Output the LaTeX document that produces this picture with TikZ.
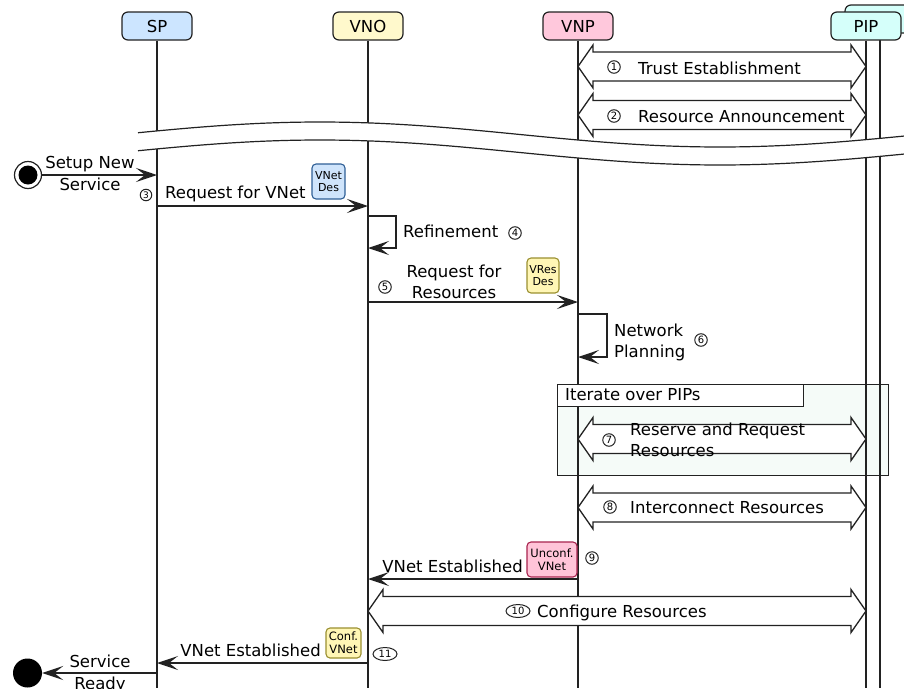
\documentclass[tikz,border=0pt]{standalone}
\usepackage{fontspec}
\setmainfont{DejaVu Sans}
\usetikzlibrary{arrows.meta,calc,shapes.geometric}
\definecolor{spfill}{HTML}{CCE5FF}
\definecolor{vnofill}{HTML}{FFF9CC}
\definecolor{vnpfill}{HTML}{FFC8DC}
\definecolor{pipfill}{HTML}{D5FFFA}
\definecolor{bluetagf}{HTML}{CFE4FB}
\definecolor{bluetagd}{HTML}{2F5F96}
\definecolor{yeltagf}{HTML}{FFF6B5}
\definecolor{yeltagd}{HTML}{9A9030}
\definecolor{pinktagf}{HTML}{FFC4D8}
\definecolor{pinktagd}{HTML}{A8234E}
\definecolor{framefill}{HTML}{F5FBF8}
\definecolor{ink}{HTML}{222222}
\tikzset{
  actor/.style={draw=ink, line width=1.2pt, rounded corners=6pt, minimum width=70pt, minimum height=28pt, inner sep=0pt, font=\fontsize{16.5}{20}\selectfont},
  life/.style={draw=ink, line width=1.3pt},
  msg/.style={draw=ink, line width=1.3pt, -{Stealth[length=21pt,width=14pt,inset=9pt]}},
  blk/.style={draw=ink, line width=1.3pt, fill=white, line join=miter},
  lbl/.style={font=\fontsize{16.5}{21}\selectfont, inner sep=0pt},
  num/.style={circle, draw=ink, line width=1pt, inner sep=0pt, minimum size=12.5pt, font=\fontsize{10}{10}\selectfont},
  numw/.style={ellipse, draw=ink, line width=1pt, inner sep=0pt, minimum width=24pt, minimum height=13pt, font=\fontsize{10}{10}\selectfont},
  tag/.style={rounded corners=4pt, line width=1.1pt, inner sep=0pt, align=center, font=\fontsize{11}{12.5}\selectfont},
}
\newcommand{\blkarrow}[2]{%
  \draw[blk] (#1) -- ++(15,-21.5) -- ++(0,7) -- ($(#2)+(-15,-14.5)$) -- ++(0,-7) -- (#2)
    -- ++(-15,21.5) -- ++(0,-7) -- ($(#1)+(15,14.5)$) -- ++(0,7) -- cycle;}
\begin{document}
\begin{tikzpicture}[x=1pt,y=-1pt]
\clip (0,0) rectangle (904,688);
\fill[white] (0,0) rectangle (904,688);
\coordinate (bot) at (0,688);

% actors
\node[actor, fill=spfill] (SP) at (157,26) {SP};
\node[actor, fill=vnofill] (VNO) at (368,26) {VNO};
\node[actor, fill=vnpfill] (VNP) at (578,26) {VNP};
\node[actor, fill=pipfill] (PIPb) at (880,19) {};

% iterate frame
\draw[ink, line width=1pt, fill=framefill] (557,384) rectangle (888,475);

% lifelines
\draw[life] (SP.south) -- (SP |- bot);
\draw[life] (VNO.south) -- (VNO |- bot);
\draw[life] (VNP.south) -- (VNP |- bot);
\draw[life] (PIPb.south) -- (PIPb |- bot);
\node[actor, fill=pipfill] (PIP) at (866,26) {PIP};
\draw[life] (PIP.south) -- (PIP |- bot);

% break
\fill[white] plot[domain=138:904,samples=80] (\x,{134.5+12.5*cos(0.45*(\x-720))})
  -- plot[domain=904:138,samples=80] (\x,{152.5+12.5*cos(0.45*(\x-720))}) -- cycle;
\draw[ink, line width=1.2pt] plot[domain=138:904,samples=80] (\x,{134.5+12.5*cos(0.45*(\x-720))});
\draw[ink, line width=1.2pt] plot[domain=138:904,samples=80] (\x,{152.5+12.5*cos(0.45*(\x-720))});

% 1 trust establishment
\coordinate (m1) at (0,66.5);
\blkarrow{VNP |- m1}{PIP |- m1}
\node[num] (n1) at (614,67) {1};
\node[lbl, anchor=base west] (t1) at (638,74) {Trust Establishment};

% 2 resource announcement
\coordinate (m2) at (0,115);
\blkarrow{VNP |- m2}{PIP |- m2}
\node[num] (n2) at (614,116) {2};
\node[lbl, anchor=base west] (t2) at (638,122) {Resource Announcement};

% start
\node[circle, draw=ink, line width=1.2pt, minimum size=27pt, inner sep=0pt] (start) at (28,175) {};
\fill[black] (start.center) circle (9.5);
\draw[msg] (start.east) -- (SP |- start);
\node[lbl, anchor=base] (ts1) at (90,168) {Setup New};
\node[lbl, anchor=base] (ts2) at (90,190) {Service};

% 3 request for VNet
\coordinate (m3) at (0,206);
\draw[msg] (SP |- m3) -- (VNO |- m3);
\node[num, minimum size=11.5pt, font=\fontsize{9}{9}\selectfont] (n3) at (146,195) {3};
\node[lbl, anchor=base west] (t3) at (165,198) {Request for VNet};
\node[tag, draw=bluetagd, fill=bluetagf, minimum width=33pt, minimum height=35pt] (tg1) at (328.5,181.5) {VNet\\Des};

% 4 refinement
\coordinate (r1) at (396,216);
\coordinate (r2) at (396,248);
\draw[msg] (VNO |- r1) -- (r1) -- (r2) -- (VNO |- r2);
\node[lbl, anchor=base west] (t4) at (403,237) {Refinement};
\node[num] (n4) at (515,233) {4};

% 5 request for resources
\coordinate (m5) at (0,302);
\draw[msg] (VNO |- m5) -- (VNP |- m5);
\node[num] (n5) at (385,287) {5};
\node[lbl, anchor=base] (t5a) at (454,277) {Request for};
\node[lbl, anchor=base] (t5b) at (454,298) {Resources};
\node[tag, draw=yeltagd, fill=yeltagf, minimum width=32pt, minimum height=35pt] (tg2) at (543,275.5) {VRes\\Des};

% 6 network planning
\coordinate (p1) at (607,314);
\coordinate (p2) at (607,357);
\draw[msg] (VNP |- p1) -- (p1) -- (p2) -- (VNP |- p2);
\node[lbl, anchor=base west] (t6a) at (614,336) {Network};
\node[lbl, anchor=base west] (t6b) at (614,357) {Planning};
\node[num] (n6) at (701,340) {6};

% iterate label box
\draw[ink, line width=1pt, fill=white] (557,384) rectangle (803,406);
\node[lbl, anchor=base west] (tit) at (565,400) {Iterate over PIPs};

% 7 reserve and request
\coordinate (m7) at (0,439);
\blkarrow{VNP |- m7}{PIP |- m7}
\node[num] (n7) at (609,440) {7};
\node[lbl, anchor=base west] (t7a) at (630,435) {Reserve and Request};
\node[lbl, anchor=base west] (t7b) at (630,456) {Resources};

% 8 interconnect
\coordinate (m8) at (0,507.5);
\blkarrow{VNP |- m8}{PIP |- m8}
\node[num] (n8) at (610,507) {8};
\node[lbl, anchor=base west] (t8) at (630,513) {Interconnect Resources};

% 9 VNet established (VNP -> VNO)
\coordinate (m9) at (0,579);
\draw[msg] (VNP |- m9) -- (VNO |- m9);
\node[lbl, anchor=base east] (t9) at (523,572) {VNet Established};
\node[tag, draw=pinktagd, fill=pinktagf, minimum width=50pt, minimum height=35pt, font=\fontsize{11.5}{13}\selectfont] (tg3) at (552,559.5) {Unconf.\\VNet};
\node[num] (n9) at (592,558) {9};

% 10 configure resources
\coordinate (m10) at (0,611);
\blkarrow{VNO |- m10}{PIP |- m10}
\node[numw] (n10) at (518,611) {10};
\node[lbl, anchor=base west] (t10) at (537,617) {Configure Resources};

% 11 VNet established (VNO -> SP)
\coordinate (m11) at (0,663);
\draw[msg] (VNO |- m11) -- (SP |- m11);
\node[lbl, anchor=base east] (t11) at (321,656) {VNet Established};
\node[tag, draw=yeltagd, fill=yeltagf, minimum width=35pt, minimum height=30pt, font=\fontsize{11.5}{13}\selectfont] (tg4) at (343.5,643) {Conf.\\VNet};
\node[numw] (n11) at (385,654) {11};

% end
\node[circle, fill=black, minimum size=29pt, inner sep=0pt] (end) at (27.5,673) {};
\coordinate (m12) at (0,673);
\draw[msg] (SP |- m12) -- (end.east);
\node[lbl, anchor=base] (te1) at (100,667) {Service};
\node[lbl, anchor=base] (te2) at (100,689) {Ready};
\end{tikzpicture}
\end{document}
